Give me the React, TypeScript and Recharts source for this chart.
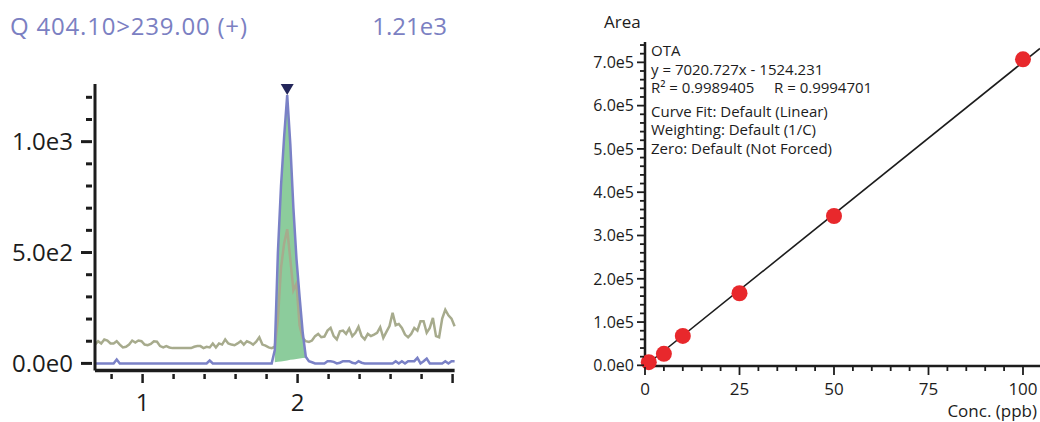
import {
  Area,
  ComposedChart,
  Line,
  ReferenceDot,
  Scatter,
  XAxis,
  YAxis,
} from "recharts";

const FONT = "'Open Sans', sans-serif";
const INK = "#1c1c1c";
const TRACE_BLUE = "#7a81c6";
const TRACE_OLIVE = "#a7ab8d";
const PEAK_GREEN = "#8ccc9c";
const MARKER = "#23265a";
const DOT_RED = "#e8282c";
const TITLE_BLUE = "#7b80c2";

// chromatogram, one sample every 0.02 min starting at 0.693 min
const RT_START = 0.693;
const RT_STEP = 0.02;

// quantifier trace (404.10 > 239.00)
const QUANT = [
  0, 0, 0, 0, 0, 0, 0, 18, 0, 0,
  0, 0, 0, 0, 0, 0, 0, 0, 0, 0,
  0, 0, 0, 0, 0, 0, 0, 0, 0, 0,
  0, 0, 0, 0, 0, 0, 0, 13, 0, 0,
  0, 0, 0, 0, 0, 0, 0, 0, 0, 0,
  0, 0, 0, 0, 0, 0, 0, 0, 60, 500,
  800, 1020, 1210, 990, 700, 470, 300, 140, 30, 10,
  5, 0, 0, 0, 0, 10, 10, 7, 0, 3,
  10, 10, 10, 3, 0, 10, 3, 0, 0, 0,
  0, 0, 0, 0, 0, 0, 0, 10, 0, 10,
  0, 10, 10, 10, 25, 0, 10, 22, 0, 0,
  0, 0, 0, 10, 0, 10, 10,
];

// qualifier trace
const QUAL = [
  85, 100, 90, 108, 103, 90, 90, 100, 85, 72,
  75, 85, 103, 94, 103, 100, 85, 82, 88, 100,
  98, 78, 72, 78, 72, 69, 69, 69, 69, 69,
  69, 69, 75, 78, 78, 69, 75, 72, 90, 72,
  90, 85, 108, 90, 85, 82, 90, 100, 85, 100,
  94, 85, 98, 118, 85, 80, 72, 69, 75, 200,
  430, 540, 605, 470, 330, 360, 170, 115, 100, 97,
  103, 123, 133, 118, 121, 148, 160, 123, 108, 145,
  148, 133, 157, 123, 138, 165, 123, 108, 133, 123,
  130, 138, 163, 115, 142, 168, 228, 172, 178, 160,
  130, 118, 133, 160, 148, 190, 190, 138, 160, 205,
  123, 118, 202, 242, 217, 202, 168,
];

// integrated peak: baseline under the quantifier peak
const FILL_START = 58;
const FILL_BASE = [5, 7, 9, 11, 13, 16, 18, 20, 22, 24, 26];
const APEX_INDEX = 62;

const RT_TICKS = [0.8, 1, 1.2, 1.4, 1.6, 1.8, 2, 2.2, 2.4, 2.6, 2.8, 3];
const RT_MAJOR = [1, 2, 3];
const RT_LABELS = [1, 2];
const INT_TICKS = [0, 100, 200, 300, 400, 500, 600, 700, 800, 900, 1000, 1100, 1200];
const INT_LABELS = [0, 500, 1000];

// calibration
const CONC = [1, 5, 10, 25, 50, 100];
const AREA = [7400, 26500, 68000, 166500, 345000, 707000];
const FIT_SLOPE = 7020.727;
const FIT_INTERCEPT = -1524.231;
const FIT_RANGE = [0, 104.5];

const CONC_TICKS = [
  0, 5, 10, 15, 20, 25, 30, 35, 40, 45, 50, 55, 60, 65, 70, 75, 80, 85, 90, 95, 100,
];
const CONC_LABELS = [0, 25, 50, 75, 100];
const AREA_TICKS = [
  0, 20000, 40000, 60000, 80000, 100000, 120000, 140000, 160000, 180000, 200000,
  220000, 240000, 260000, 280000, 300000, 320000, 340000, 360000, 380000, 400000,
  420000, 440000, 460000, 480000, 500000, 520000, 540000, 560000, 580000, 600000,
  620000, 640000, 660000, 680000, 700000, 720000, 740000,
];

const FIT_LINES = [
  "OTA",
  "y = 7020.727x - 1524.231",
  "R² = 0.9989405",
  "Curve Fit: Default (Linear)",
  "Weighting: Default (1/C)",
  "Zero: Default (Not Forced)",
];
const FIT_R = "R = 0.9994701";

const chromData = QUANT.map((q, i) => {
  const k = i - FILL_START;
  return {
    rt: Number((RT_START + i * RT_STEP).toFixed(3)),
    quant: q,
    qual: QUAL[i],
    peak: k >= 0 && k < FILL_BASE.length ? [FILL_BASE[k], q] : null,
  };
});

const calData = CONC.map((c, i) => ({ conc: c, area: AREA[i] }));
const fitData = FIT_RANGE.map((c) => ({ conc: c, area: FIT_SLOPE * c + FIT_INTERCEPT }));

const sci = (v: number) => v.toExponential(1).replace("+", "");

function IntTick({ x, y, payload }: any) {
  const v = payload.value;
  const major = INT_LABELS.includes(v);
  const len = major ? 11 : 6;
  return (
    <g>
      <line x1={x - 3 - len} x2={x - 3} y1={y} y2={y} stroke={INK} strokeWidth={3} />
      {major && (
        <text x={x - 22} y={y} dy="0.36em" textAnchor="end" fontSize={24} fill={INK} fontFamily={FONT}>
          {sci(v)}
        </text>
      )}
    </g>
  );
}

function RtTick({ x, y, payload }: any) {
  const v = payload.value;
  const major = RT_MAJOR.includes(v);
  const len = major ? 9 : 5;
  return (
    <g>
      <line x1={x} x2={x} y1={y + 3.5} y2={y + 3.5 + len} stroke={INK} strokeWidth={2.5} />
      {RT_LABELS.includes(v) && (
        <text x={x} y={y + 40} textAnchor="middle" fontSize={24} fill={INK} fontFamily={FONT}>
          {v}
        </text>
      )}
    </g>
  );
}

function AreaTick({ x, y, payload }: any) {
  const v = payload.value;
  const major = v % 100000 === 0;
  const len = major ? 7 : 4;
  return (
    <g>
      <line x1={x - 1 - len} x2={x - 1} y1={y} y2={y} stroke={INK} strokeWidth={1.8} />
      {major && (
        <text x={x - 11} y={y} dy="0.36em" textAnchor="end" fontSize={16} fill={INK} fontFamily={FONT}>
          {sci(v)}
        </text>
      )}
    </g>
  );
}

function ConcTick({ x, y, payload }: any) {
  const v = payload.value;
  const major = CONC_LABELS.includes(v);
  const len = major ? 8 : 4;
  return (
    <g>
      <line x1={x} x2={x} y1={y + 1} y2={y + 1 + len} stroke={INK} strokeWidth={1.8} />
      {major && (
        <text x={x} y={y + 29} textAnchor="middle" fontSize={17} fill={INK} fontFamily={FONT}>
          {v}
        </text>
      )}
    </g>
  );
}

const apexShape = (p: any) => (
  <polygon
    points={`${p.cx - 6.5},${p.cy - 11} ${p.cx + 6.5},${p.cy - 11} ${p.cx},${p.cy}`}
    fill={MARKER}
  />
);

const dotShape = (p: any) => <circle cx={p.cx} cy={p.cy} r={8} fill={DOT_RED} />;

const FIT_BASELINES = [56, 74.5, 92.5, 116.5, 135, 154];

export default function App() {
  return (
    <div style={{ position: "absolute", left: 0, top: 0, width: 1040, height: 422, background: "#fff" }}>
      <div style={{ position: "absolute", left: 0, top: 0 }}>
        <ComposedChart
          width={470}
          height={422}
          data={chromData}
          margin={{ top: 84, right: 15.4, bottom: 11.5, left: 15 }}
        >
          <XAxis
            dataKey="rt"
            type="number"
            domain={[0.693, 3.013]}
            ticks={RT_TICKS}
            interval={0}
            height={40}
            tickSize={0}
            tickMargin={0}
            tickLine={false}
            axisLine={{ stroke: INK, strokeWidth: 3.5 }}
            tick={<RtTick />}
          />
          <YAxis
            type="number"
            domain={[-32, 1260]}
            ticks={INT_TICKS}
            interval={0}
            width={80}
            tickSize={0}
            tickMargin={0}
            tickLine={false}
            axisLine={{ stroke: INK, strokeWidth: 3 }}
            tick={<IntTick />}
          />
          <Area
            dataKey="peak"
            stroke="none"
            fill={PEAK_GREEN}
            fillOpacity={1}
            isAnimationActive={false}
            type="linear"
          />
          <Line
            dataKey="qual"
            stroke={TRACE_OLIVE}
            strokeWidth={2.5}
            dot={false}
            type="linear"
            isAnimationActive={false}
          />
          <Line
            dataKey="quant"
            stroke={TRACE_BLUE}
            strokeWidth={2.5}
            dot={false}
            type="linear"
            isAnimationActive={false}
          />
          <ReferenceDot
            x={chromData[APEX_INDEX].rt}
            y={QUANT[APEX_INDEX]}
            shape={apexShape}
            ifOverflow="visible"
          />
        </ComposedChart>
      </div>

      <div style={{ position: "absolute", left: 560, top: 0 }}>
        <ComposedChart width={480} height={422} margin={{ top: 42, right: 0, bottom: 16, left: 25 }}>
          <XAxis
            dataKey="conc"
            type="number"
            domain={[0, 104.5]}
            ticks={CONC_TICKS}
            interval={0}
            height={40}
            tickSize={0}
            tickMargin={0}
            tickLine={false}
            axisLine={{ stroke: INK, strokeWidth: 2.5 }}
            tick={<ConcTick />}
          />
          <YAxis
            dataKey="area"
            type="number"
            domain={[0, 747000]}
            ticks={AREA_TICKS}
            interval={0}
            width={60}
            tickSize={0}
            tickMargin={0}
            tickLine={false}
            axisLine={{ stroke: INK, strokeWidth: 2.5 }}
            tick={<AreaTick />}
          />
          <Scatter data={calData} dataKey="area" shape={dotShape} isAnimationActive={false} />
          <Line
            data={fitData}
            dataKey="area"
            stroke={INK}
            strokeWidth={1.6}
            dot={false}
            type="linear"
            isAnimationActive={false}
          />
        </ComposedChart>
      </div>

      <svg
        width={1040}
        height={422}
        style={{ position: "absolute", left: 0, top: 0, pointerEvents: "none" }}
        fontFamily={FONT}
      >
        <text x={10} y={35} fontSize={24} fill={TITLE_BLUE} letterSpacing={0.8}>
          Q 404.10&gt;239.00 (+)
        </text>
        <text x={447} y={35} fontSize={24} fill={TITLE_BLUE} textAnchor="end">
          1.21e3
        </text>

        <text x={604} y={28} fontSize={17} fill={INK}>
          Area
        </text>
        <text x={1037} y={417} fontSize={17} fill={INK} textAnchor="end">
          Conc. (ppb)
        </text>

        <g fontSize={15} fill={INK}>
          {FIT_LINES.map((t, i) => (
            <text key={t} x={651} y={FIT_BASELINES[i]}>
              {t}
            </text>
          ))}
          <text x={774} y={FIT_BASELINES[2]}>
            {FIT_R}
          </text>
        </g>
      </svg>
    </div>
  );
}
